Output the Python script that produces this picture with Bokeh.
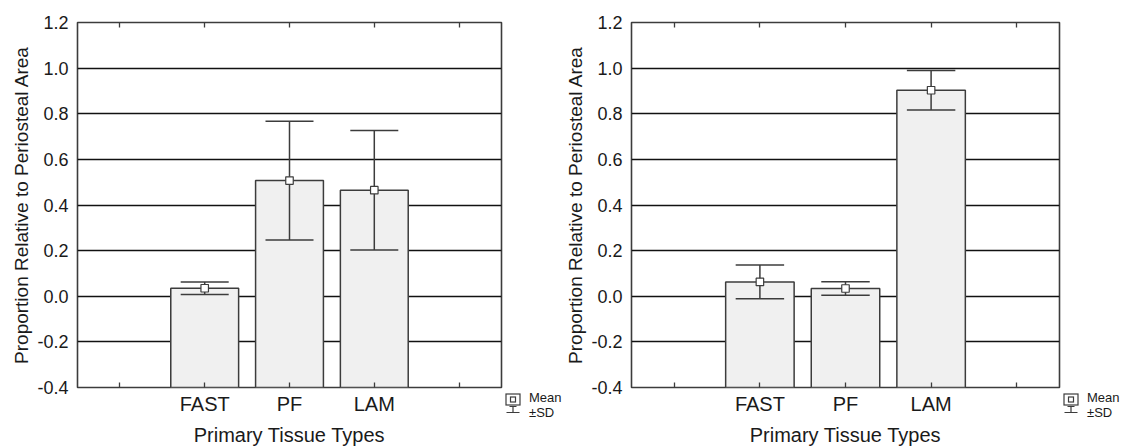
from bokeh.plotting import figure
from bokeh.models import Range1d, FixedTicker, LinearAxis, PrintfTickFormatter, ColumnDataSource, Div
from bokeh.layouts import row
from bokeh.embed import file_html
from bokeh.resources import INLINE

# ---------------- data ----------------
categories = ["FAST", "PF", "LAM"]
left_mean = [0.035, 0.507, 0.465]
left_sd = [0.027, 0.260, 0.262]
right_mean = [0.063, 0.034, 0.903]
right_sd = [0.074, 0.030, 0.087]
y_ticks = [-0.4, -0.2, 0.0, 0.2, 0.4, 0.6, 0.8, 1.0, 1.2]
x_title = "Primary Tissue Types"
y_title = "Proportion Relative to Periosteal Area"
legend_labels = ["Mean", "±SD"]

FONT = "Liberation Sans"
DARK = "#3c3c3c"
TXT = "#1a1a1a"
N_SLOTS = len(categories) + 2
H = 440


def make_panel(means, sds, b_left, b_top, frame_w, frame_h, b_right=2):
    width = b_left + frame_w + b_right
    b_bottom = H - b_top - frame_h
    p = figure(width=width, height=H,
               x_range=Range1d(0, N_SLOTS), y_range=Range1d(y_ticks[0], y_ticks[-1]),
               output_backend="svg", toolbar_location=None,
               min_border_left=b_left, min_border_right=b_right,
               min_border_top=b_top, min_border_bottom=b_bottom,
               x_axis_label=x_title, y_axis_label=y_title)
    p.background_fill_color = "white"
    p.border_fill_color = "white"
    p.outline_line_color = DARK
    p.outline_line_width = 1.6

    slot_pos = [0.5 + i for i in range(N_SLOTS)]
    xs = [1.5 + i for i in range(len(categories))]
    overrides = {pos: "" for pos in slot_pos}
    for x, c in zip(xs, categories):
        overrides[x] = c

    xa = p.xaxis[0]
    xa.ticker = FixedTicker(ticks=slot_pos)
    xa.major_label_overrides = overrides
    xa.major_tick_in = 5
    xa.major_tick_out = 0
    xa.major_tick_line_color = DARK
    xa.major_tick_line_width = 1.3
    xa.minor_tick_line_color = None
    xa.axis_line_color = None
    xa.major_label_text_font = FONT
    xa.major_label_text_font_size = "20px"
    xa.major_label_text_color = TXT
    xa.major_label_standoff = 5
    xa.axis_label_text_font = FONT
    xa.axis_label_text_font_size = "20px"
    xa.axis_label_text_font_style = "normal"
    xa.axis_label_text_color = TXT
    xa.axis_label_standoff = 6

    ta = LinearAxis(ticker=FixedTicker(ticks=slot_pos),
                    major_label_overrides={pos: "" for pos in slot_pos},
                    major_label_text_font_size="0px", major_label_standoff=0,
                    major_tick_in=5, major_tick_out=0,
                    major_tick_line_color=DARK, major_tick_line_width=1.3,
                    minor_tick_line_color=None, axis_line_color=None)
    p.add_layout(ta, "above")

    ya = p.yaxis[0]
    ya.ticker = FixedTicker(ticks=y_ticks)
    ya.formatter = PrintfTickFormatter(format="%.1f")
    ya.major_tick_in = 0
    ya.major_tick_out = 0
    ya.minor_tick_line_color = None
    ya.axis_line_color = None
    ya.major_label_text_font = FONT
    ya.major_label_text_font_size = "18px"
    ya.major_label_text_color = TXT
    ya.major_label_standoff = 9
    ya.axis_label_text_font = FONT
    ya.axis_label_text_font_size = "19px"
    ya.axis_label_text_font_style = "normal"
    ya.axis_label_text_color = TXT
    ya.axis_label_standoff = 2

    p.xgrid.grid_line_color = None
    p.ygrid.ticker = FixedTicker(ticks=y_ticks)
    p.ygrid.grid_line_color = "#111111"
    p.ygrid.grid_line_width = 1.5

    base = y_ticks[0]
    upper = [m + s for m, s in zip(means, sds)]
    lower = [m - s for m, s in zip(means, sds)]
    cap = 0.283
    src = ColumnDataSource(dict(x=xs, mean=means, upper=upper, lower=lower,
                                cl=[x - cap for x in xs], cr=[x + cap for x in xs],
                                base=[base] * len(xs)))
    p.vbar(x="x", top="mean", bottom="base", width=0.8, source=src,
           fill_color="#f0f0f0", line_color=DARK, line_width=1.5)
    p.segment(x0="x", y0="lower", x1="x", y1="upper", source=src,
              line_color=DARK, line_width=1.5)
    p.segment(x0="cl", y0="upper", x1="cr", y1="upper", source=src,
              line_color=DARK, line_width=1.5)
    p.segment(x0="cl", y0="lower", x1="cr", y1="lower", source=src,
              line_color=DARK, line_width=1.5)
    p.scatter(x="x", y="mean", source=src, marker="square", size=7.5,
              fill_color="white", line_color=DARK, line_width=1.2)
    return p


def make_legend(width):
    # Mean / ±SD key, drawn below-right of the plot frame
    svg = (
        f'<svg xmlns="http://www.w3.org/2000/svg" width="{width}" height="{H}" '
        f'style="display:block">'
        f'<rect x="3" y="386" width="14" height="11" fill="white" stroke="{DARK}" stroke-width="1.2"/>'
        f'<rect x="7.5" y="389" width="5" height="5" fill="white" stroke="{DARK}" stroke-width="1.2"/>'
        f'<path d="M6.5 398.5 H13.5 M10 398.5 V404.5 M3.5 404.5 H16.5" stroke="{DARK}" '
        f'stroke-width="1.2" fill="none"/>'
        f'<text x="26" y="393.5" font-family="{FONT}" font-size="13px" fill="{TXT}">{legend_labels[0]}</text>'
        f'<text x="26" y="408.5" font-family="{FONT}" font-size="13px" fill="{TXT}">{legend_labels[1]}</text>'
        f'</svg>'
    )
    return Div(text=svg, width=width, height=H, margin=0,
               styles={"padding": "0", "margin": "0", "overflow": "visible"})


p1 = make_panel(left_mean, left_sd, b_left=64, b_top=14, frame_w=429, frame_h=365)
l1 = make_legend(59)
p2 = make_panel(right_mean, right_sd, b_left=64, b_top=14, frame_w=433, frame_h=365)
l2 = make_legend(59)

layout = row(p1, l1, p2, l2, styles={"position": "absolute", "top": "8px", "left": "8px"})
open("out.html", "w").write(file_html(layout, INLINE))
